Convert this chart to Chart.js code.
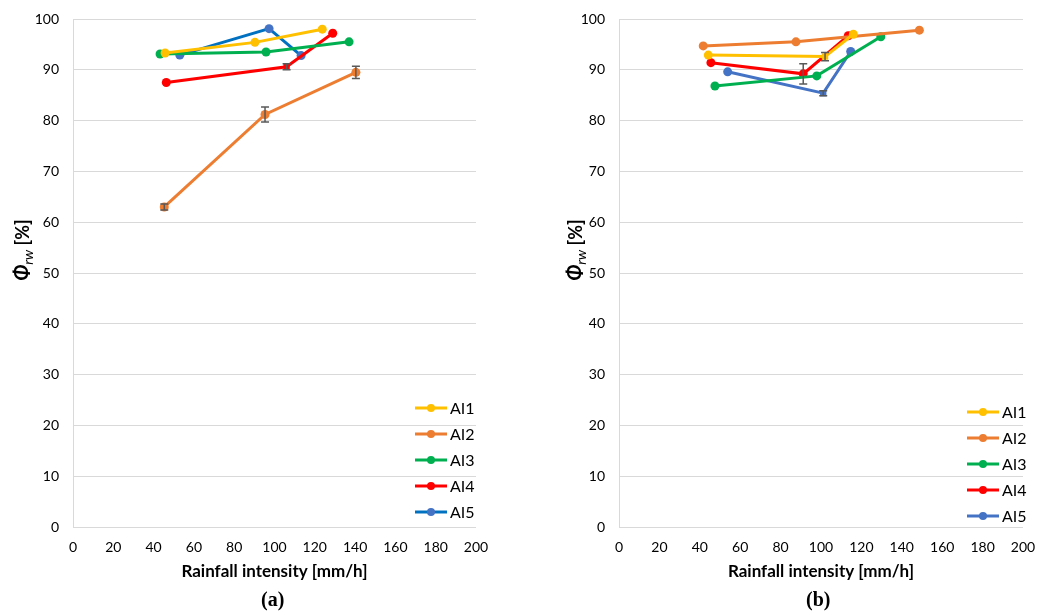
<!DOCTYPE html>
<html>
<head>
<meta charset="utf-8">
<script src="https://cdn.jsdelivr.net/npm/chart.js@4/dist/chart.umd.min.js"></script>
<style>
  body { margin: 0; width: 1056px; height: 614px; background: #fff; position: relative; overflow: hidden; }
  .panel { position: absolute; top: 0; width: 528px; height: 614px; }
  .caption { position: absolute; top: 588px; font-family: "Liberation Serif", serif; font-size: 20px; font-weight: bold; color: #000; }
</style>
</head>
<body>
<div class="panel" style="left:0"><canvas id="chartA" width="528" height="614"></canvas></div>
<div class="panel" style="left:528px"><canvas id="chartB" width="528" height="614"></canvas></div>
<div class="caption" style="left:261px">(a)</div>
<div class="caption" style="left:806px">(b)</div>
<script>
// series names and tick labels
const seriesNames = ["AI1", "AI2", "AI3", "AI4", "AI5"];
const xTicks = [0, 20, 40, 60, 80, 100, 120, 140, 160, 180, 200];
const yTicks = [0, 10, 20, 30, 40, 50, 60, 70, 80, 90, 100];

// (a) rainfall intensity [mm/h] and Φrw [%]
const a_AI1_x = [45.7, 90.3, 123.7];
const a_AI1_y = [93.3, 95.4, 98.0];
const a_AI2_x = [45.3, 95.3, 140.4];
const a_AI2_y = [63.0, 81.2, 89.5];
const a_AI2_err = [0.6, 1.5, 1.2];
const a_AI3_x = [43.2, 95.8, 137.0];
const a_AI3_y = [93.1, 93.5, 95.5];
const a_AI4_x = [46.3, 106.0, 128.9];
const a_AI4_y = [87.5, 90.6, 97.2];
const a_AI4_err = [0, 0.6, 0];
const a_AI5_x = [53.0, 97.3, 113.2];
const a_AI5_y = [92.9, 98.1, 92.8];

// (b)
const b_AI1_x = [44.2, 102.0, 116.0];
const b_AI1_y = [92.9, 92.6, 97.0];
const b_AI1_err = [0, 0.8, 0];
const b_AI2_x = [41.7, 87.6, 148.7];
const b_AI2_y = [94.7, 95.5, 97.8];
const b_AI3_x = [47.5, 97.9, 129.6];
const b_AI3_y = [86.8, 88.8, 96.5];
const b_AI4_x = [45.5, 91.2, 113.5];
const b_AI4_y = [91.4, 89.2, 96.7];
const b_AI4_err = [0, 2.0, 0];
const b_AI5_x = [53.8, 101.1, 114.7];
const b_AI5_y = [89.6, 85.4, 93.6];
const b_AI5_err = [0, 0.5, 0];

const FONT = "Lato";
const gridColor = "#d9d9d9";

function pts(xs, ys) {
  return xs.map((x, i) => ({ x: x, y: ys[i] }));
}

function series(label, xs, ys, color, pointColor, errs, rectIndex) {
  return {
    label: label,
    data: pts(xs, ys),
    errors: errs || null,
    borderColor: color,
    backgroundColor: pointColor || color,
    pointBackgroundColor: pointColor || color,
    pointBorderColor: pointColor || color,
    pointBorderWidth: 0,
    borderWidth: 3,
    pointRadius: 4.5,
    pointStyle: ctx => (ctx.dataIndex === rectIndex ? "rect" : "circle"),
    pointHoverRadius: 4.5,
    tension: 0,
  };
}

// error bars + custom legend + y title
const extras = {
  id: "extras",
  afterDatasetsDraw(chart) {
    const { ctx } = chart;
    const ys = chart.scales.y;
    ctx.save();
    ctx.strokeStyle = "#595959";
    ctx.lineWidth = 1.5;
    chart.data.datasets.forEach((ds, di) => {
      if (!ds.errors) return;
      const meta = chart.getDatasetMeta(di);
      ds.errors.forEach((e, i) => {
        if (!e) return;
        const px = meta.data[i].x;
        const v = ds.data[i].y;
        const top = ys.getPixelForValue(v + e);
        const bot = ys.getPixelForValue(v - e);
        ctx.beginPath();
        ctx.moveTo(px, top); ctx.lineTo(px, bot);
        ctx.moveTo(px - 4, top); ctx.lineTo(px + 4, top);
        ctx.moveTo(px - 4, bot); ctx.lineTo(px + 4, bot);
        ctx.stroke();
      });
    });
    ctx.restore();
  },
  afterDraw(chart) {
    const { ctx } = chart;
    const o = chart.options.plugins.extras;
    // legend
    ctx.save();
    ctx.font = "16px " + FONT;
    ctx.textBaseline = "middle";
    chart.data.datasets.forEach((ds, i) => {
      const y = o.legendTop + i * 26;
      const x0 = o.legendLeft;
      ctx.strokeStyle = ds.borderColor;
      ctx.lineWidth = 3;
      ctx.beginPath(); ctx.moveTo(x0, y); ctx.lineTo(x0 + 32, y); ctx.stroke();
      ctx.fillStyle = ds.pointBackgroundColor;
      ctx.beginPath(); ctx.arc(x0 + 16, y, 4, 0, Math.PI * 2); ctx.fill();
      ctx.fillStyle = "#000";
      ctx.fillText(ds.label, x0 + 35, y + 1);
    });
    ctx.restore();
    // y axis title: Φrw [%]
    ctx.save();
    ctx.translate(o.titleX, o.titleY);
    ctx.rotate(-Math.PI / 2);
    ctx.fillStyle = "#000";
    ctx.textBaseline = "alphabetic";
    const f1 = "italic bold 20px " + FONT;
    const f2 = "italic 14px " + FONT;
    const f3 = "bold 18px " + FONT;
    ctx.font = f1; const w1 = ctx.measureText("Φ").width;
    ctx.font = f2; const w2 = ctx.measureText("rw").width;
    ctx.font = f3; const w3 = ctx.measureText(" [%]").width;
    let x = -(w1 + w2 + w3) / 2;
    ctx.font = f1; ctx.fillText("Φ", x, 7); x += w1;
    ctx.font = f2; ctx.fillText("rw", x, 11); x += w2;
    ctx.font = f3; ctx.fillText(" [%]", x, 7);
    ctx.restore();
  },
};

function makeOptions(padLeft, padRight, extrasOpts) {
  return {
    responsive: false,
    animation: false,
    layout: { padding: { left: padLeft, right: padRight, top: 19, bottom: 32 } },
    plugins: {
      legend: { display: false },
      tooltip: { enabled: false },
      extras: extrasOpts,
    },
    scales: {
      x: {
        type: "linear",
        min: 0,
        max: 200,
        afterBuildTicks: s => { s.ticks = xTicks.map(v => ({ value: v })); },
        afterFit: s => { s.height = 55; },
        grid: { display: false, drawTicks: false },
        border: { display: false },
        ticks: { color: "#000", padding: 12, font: { family: FONT, size: 14 } },
        title: {
          display: true,
          text: "Rainfall intensity [mm/h]",
          color: "#000",
          padding: { top: 6, bottom: 0 },
          font: { family: FONT, size: 17, weight: "bold" },
        },
      },
      y: {
        min: 0,
        max: 100,
        afterBuildTicks: s => { s.ticks = yTicks.map(v => ({ value: v })); },
        afterFit: s => { s.width = 40; s.paddingTop = 0; s.paddingBottom = 0; },
        grid: { color: gridColor, lineWidth: 1, drawTicks: false },
        border: { display: true, color: gridColor, width: 1 },
        ticks: { color: "#000", padding: 14, font: { family: FONT, size: 14 } },
      },
    },
  };
}

new Chart(document.getElementById("chartA"), {
  type: "line",
  data: {
    datasets: [
      series(seriesNames[0], a_AI1_x, a_AI1_y, "#FFC000"),
      series(seriesNames[1], a_AI2_x, a_AI2_y, "#ED7D31", null, a_AI2_err),
      series(seriesNames[2], a_AI3_x, a_AI3_y, "#00B050"),
      series(seriesNames[3], a_AI4_x, a_AI4_y, "#FF0000", null, a_AI4_err, 1),
      series(seriesNames[4], a_AI5_x, a_AI5_y, "#0070C0", "#4472C4"),
    ],
  },
  options: makeOptions(33, 52, { legendLeft: 415, legendTop: 408, titleX: 22, titleY: 250 }),
  plugins: [extras],
});

new Chart(document.getElementById("chartB"), {
  type: "line",
  data: {
    datasets: [
      series(seriesNames[0], b_AI1_x, b_AI1_y, "#FFC000", null, b_AI1_err, 1),
      series(seriesNames[1], b_AI2_x, b_AI2_y, "#ED7D31"),
      series(seriesNames[2], b_AI3_x, b_AI3_y, "#00B050"),
      series(seriesNames[3], b_AI4_x, b_AI4_y, "#FF0000", null, b_AI4_err),
      series(seriesNames[4], b_AI5_x, b_AI5_y, "#4472C4", null, b_AI5_err, 1),
    ],
  },
  options: makeOptions(51, 33, { legendLeft: 967 - 528, legendTop: 412, titleX: 575 - 528, titleY: 250 }),
  plugins: [extras],
});
</script>
</body>
</html>
